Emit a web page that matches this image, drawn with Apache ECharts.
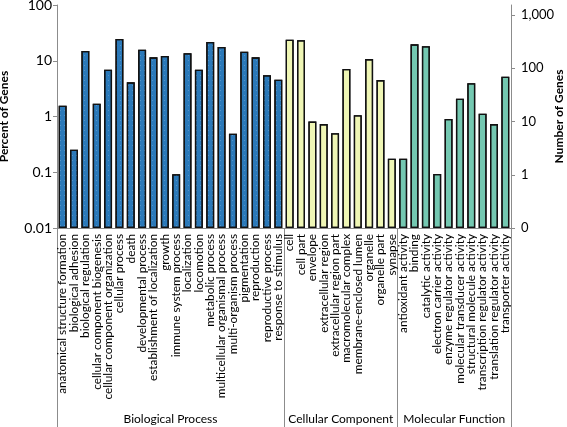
<!DOCTYPE html>
<html><head><meta charset="utf-8">
<script src="https://cdn.jsdelivr.net/npm/echarts@6/dist/echarts.min.js"></script>
<style>html,body{margin:0;padding:0;background:#fff}#c{width:567px;height:427px}</style>
</head><body><div id="c"></div>
<script>
const bpCats = ['anatomical structure formation','biological adhesion','biological regulation','cellular component biogenesis','cellular component organization','cellular process','death','developmental process','establishment of localization','growth','immune system process','localization','locomotion','metabolic process','multicellular organismal process','multi-organism process','pigmentation','reproduction','reproductive process','response to stimulus'];
const ccCats = ['cell','cell part','envelope','extracellular region','extracellular region part','macromolecular complex','membrane-enclosed lumen','organelle','organelle part','synapse'];
const mfCats = ['antioxidant activity','binding','catalytic activity','electron carrier activity','enzyme regulator activity','molecular transducer activity','structural molecule activity','transcription regulator activity','translation regulator activity','transporter activity'];
const bpPct = [1.56,0.254,15.0,1.70,6.9,24.5,4.1,15.8,11.5,12.2,0.092,13.6,6.9,21.7,17.7,0.49,14.5,11.5,5.48,4.57];
const ccPct = [23.9,23.3,0.81,0.73,0.50,7.1,1.05,10.7,4.5,0.175];
const mfPct = [0.175,19.7,18.2,0.093,0.90,2.09,3.94,1.12,0.73,5.17];
const groupNames = ['Biological Process','Cellular Component','Molecular Function'];
const leftTicks = [0.01,0.1,1,10,100];
const rightTicks = [0.1,1,10,100,1000];

const cats = bpCats.concat(ccCats, mfCats);
const n = cats.length;
function pad(vals, start){ const a = new Array(n).fill('-'); vals.forEach((v,i)=>a[start+i]=v); return a; }
const b1 = bpCats.length, b2 = b1 + ccCats.length;
const groupBounds = [0, b1, b2, n];
const groupCenters = [b1/2, (b1+b2)/2, (b2+n)/2];

const grey = '#8c8c8c';
const font = 'Lato, "Open Sans", sans-serif';
const chart = echarts.init(document.getElementById('c'));
const barCommon = {type:'bar', xAxisIndex:0, yAxisIndex:0, barGap:'-100%', barCategoryGap:'30%'};
chart.setOption({
  animation:false,
  aria:{enabled:true, decal:{show:true}},
  textStyle:{fontFamily:font},
  grid:{left:57, right:56, top:5, bottom:199, containLabel:false, outerBoundsMode:'none'},
  xAxis:[
    {type:'category', data:cats, position:'bottom',
     axisLine:{show:true, onZero:false, lineStyle:{color:grey, width:1}},
     axisTick:{show:false},
     axisLabel:{rotate:90, interval:0, margin:6, fontSize:11.8, color:'#000', fontFamily:font}},
    {type:'value', min:0, max:n, position:'bottom',
     axisLine:{show:false, onZero:false}, splitLine:{show:false},
     axisTick:{show:true, length:199, customValues:groupBounds, lineStyle:{color:grey, width:1}},
     axisLabel:{show:true, customValues:groupCenters, margin:185, fontSize:12, color:'#000', fontFamily:font,
       formatter:function(v){ const i = groupCenters.indexOf(v); return i>=0 ? groupNames[i] : ''; }}}
  ],
  yAxis:[
    {type:'log', logBase:10, min:0.01, max:100, startValue:0.01, position:'left',
     name:'Percent of Genes', nameLocation:'middle', nameGap:47,
     nameTextStyle:{fontWeight:'bold', fontSize:12, color:'#000', fontFamily:font},
     axisLine:{show:true, onZero:false, lineStyle:{color:grey}},
     axisTick:{show:true, length:4, customValues:leftTicks, lineStyle:{color:grey}},
     axisLabel:{customValues:leftTicks, fontSize:14, color:'#000', margin:5, fontFamily:font,
       formatter:function(v){ return String(v); }},
     splitLine:{show:false}},
    {type:'log', logBase:10, min:0.1, max:1542, position:'right',
     name:'Number of Genes', nameLocation:'middle', nameGap:42, nameRotate:90, nameMoveOverlap:false,
     nameTextStyle:{fontWeight:'bold', fontSize:12, color:'#000', fontFamily:font},
     axisLine:{show:true, onZero:false, lineStyle:{color:grey}},
     axisTick:{show:true, length:4, customValues:rightTicks, lineStyle:{color:grey}},
     axisLabel:{customValues:rightTicks, fontSize:13, color:'#000', margin:10, fontFamily:font,
       formatter:function(v){ return v < 1 ? '0' : Math.round(v).toLocaleString('en-US'); }},
     splitLine:{show:false}}
  ],
  series:[
    Object.assign({name:'BP', data:pad(bpPct,0), itemStyle:{color:'#2b79b9', borderColor:'#111', borderWidth:1.3,
      decal:{symbol:'rect', symbolSize:1, color:'rgba(255,255,255,0.2)', dashArrayX:[1,3], dashArrayY:[1,4], rotation:0}}}, barCommon),
    Object.assign({name:'CC', data:pad(ccPct,b1), itemStyle:{color:'#eff6b5', borderColor:'#111', borderWidth:1.3, decal:{symbol:'none'}}}, barCommon),
    Object.assign({name:'MF', data:pad(mfPct,b2), itemStyle:{color:'#74c8b1', borderColor:'#111', borderWidth:1.3, decal:{symbol:'none'}}}, barCommon)
  ]
});
</script></body></html>
